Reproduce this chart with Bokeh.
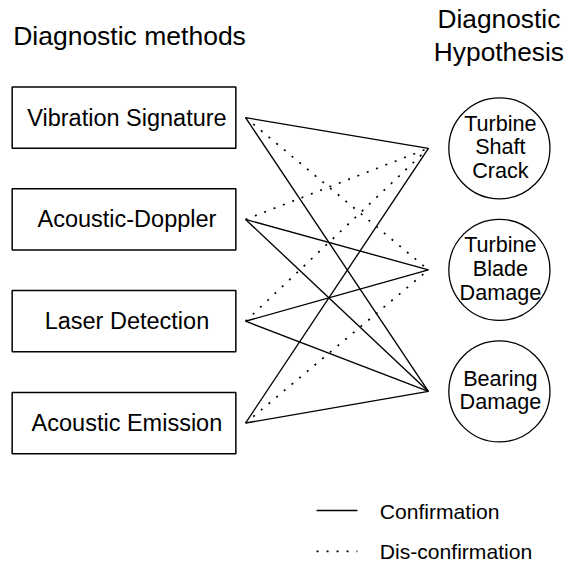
from bokeh.plotting import figure
from bokeh.models import Range1d, ColumnDataSource
from bokeh.embed import file_html
from bokeh.resources import INLINE
from bokeh.core.properties import value

# ---- data ----
methods = ["Vibration Signature", "Acoustic-Doppler", "Laser Detection", "Acoustic Emission"]
hypotheses = ["Turbine Shaft Crack", "Turbine Blade Damage", "Bearing Damage"]
link_method = [0, 0, 0, 1, 1, 1, 2, 2, 2, 3, 3, 3]
link_hypothesis = [0, 1, 2, 0, 1, 2, 0, 1, 2, 0, 1, 2]
link_kind = ["Confirmation", "Dis-confirmation", "Confirmation",
             "Dis-confirmation", "Confirmation", "Confirmation",
             "Dis-confirmation", "Confirmation", "Confirmation",
             "Confirmation", "Dis-confirmation", "Confirmation"]
legend_labels = ["Confirmation", "Dis-confirmation"]
left_title = "Diagnostic methods"
right_title = ["Diagnostic", "Hypothesis"]

# ---- layout (drawing units; whole drawing scaled to fit the canvas) ----
W, H = 566, 564
DW, DH = 582, 580
FONT = "Liberation Sans"
box_left, box_right = 12, 242
method_y0, method_step, box_half = 120.5, 104.67, 31.5
line_x0, line_x1 = 252, 440
hyp_x, hyp_y0, hyp_step, hyp_r = 513, 152, 125, 52
dash = {"Confirmation": "solid", "Dis-confirmation": "2 8"}
width = {"Confirmation": 1.35, "Dis-confirmation": 1.7}

p = figure(width=W, height=H, x_range=Range1d(0, DW), y_range=Range1d(DH, 0),
           output_backend="svg", toolbar_location=None, min_border=0,
           x_axis_type=None, y_axis_type=None)
p.grid.visible = False
p.outline_line_color = None
p.background_fill_color = "white"
p.border_fill_color = "white"

def my(i):
    return method_y0 + method_step * i

def hy(j):
    return hyp_y0 + hyp_step * j

# links
for kind in legend_labels:
    idx = [k for k in range(len(link_kind)) if link_kind[k] == kind]
    src = ColumnDataSource(dict(
        x0=[line_x0] * len(idx), y0=[my(link_method[k]) for k in idx],
        x1=[line_x1] * len(idx), y1=[hy(link_hypothesis[k]) for k in idx]))
    p.segment("x0", "y0", "x1", "y1", source=src, line_color="black",
              line_width=width[kind], line_dash=dash[kind])

# method boxes
p.quad(left=[box_left] * len(methods), right=[box_right] * len(methods),
       top=[my(i) - box_half for i in range(len(methods))],
       bottom=[my(i) + box_half for i in range(len(methods))],
       fill_color="white", line_color="black", line_width=1.5)
p.text(x=[(box_left + box_right) / 2 + 3] * len(methods),
       y=[my(i) for i in range(len(methods))], text=methods,
       text_font=value(FONT), text_font_size="23.5px", text_color="black",
       text_align="center", text_baseline="middle")

# hypothesis circles
p.circle(x=[hyp_x] * len(hypotheses), y=[hy(j) for j in range(len(hypotheses))],
         radius=hyp_r, fill_color="white", line_color="black", line_width=1.3)
hx, hyy, ht = [], [], []
for j, lab in enumerate(hypotheses):
    words = lab.split(" ")
    n = len(words)
    for k, w in enumerate(words):
        hx.append(hyp_x + 1)
        hyy.append(hy(j) - 1.5 + (k - (n - 1) / 2) * 24.5)
        ht.append(w)
p.text(x=hx, y=hyy, text=ht, text_font=value(FONT), text_font_size="21.6px",
       text_color="black", text_align="center", text_baseline="middle")

# titles
p.text(x=[13], y=[36.3], text=[left_title], text_font=value(FONT),
       text_font_size="26.5px", text_color="black", text_align="left",
       text_baseline="middle")
p.text(x=[512.5, 512.5], y=[19.5, 53], text=right_title, text_font=value(FONT),
       text_font_size="26.3px", text_color="black", text_align="center",
       text_baseline="middle")

# legend
leg_y = [524.5, 566.5]
for i, kind in enumerate(legend_labels):
    p.segment(x0=[325], y0=[leg_y[i]], x1=[367], y1=[leg_y[i]], line_color="black",
              line_width=width[kind], line_dash=dash[kind])
p.text(x=[390, 390], y=[ly + 0.5 for ly in leg_y], text=legend_labels,
       text_font=value(FONT), text_font_size="21.1px", text_color="black",
       text_align="left", text_baseline="middle")

open("out.html", "w").write(file_html(p, INLINE))
